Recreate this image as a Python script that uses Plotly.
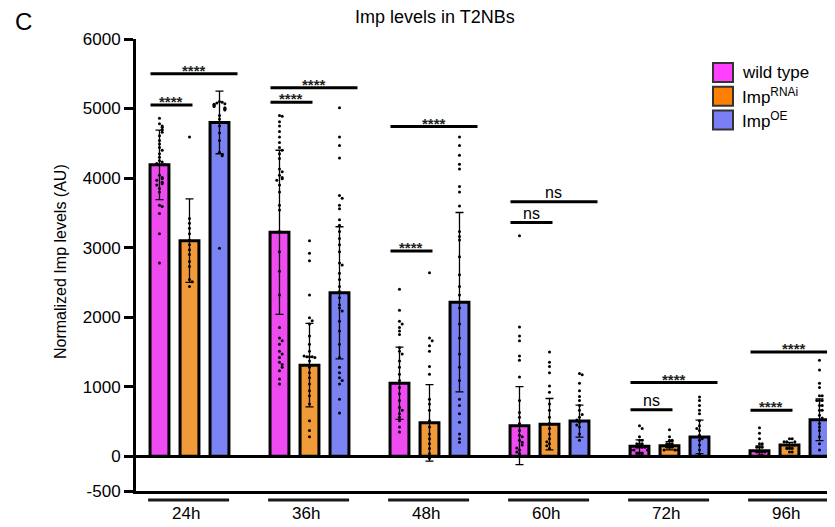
import plotly.graph_objects as go

# ---------------- data ----------------
groups = ["24h", "36h", "48h", "60h", "72h", "96h"]
genotypes = ["wild type", "Imp<sup>RNAi</sup>", "Imp<sup>OE</sup>"]

mean_wt = [4190, 3220, 1050, 440, 145, 78]
mean_rnai = [3100, 1310, 480, 460, 150, 160]
mean_oe = [4800, 2350, 2215, 505, 278, 525]

sd_wt = [500, 1180, 520, 560, 90, 70]
sd_rnai = [600, 600, 550, 370, 60, 40]
sd_oe = [450, 950, 1290, 230, 240, 300]

pts_wt_24h = [4860, 4780, 4750, 4730, 4700, 4660, 4610, 4540, 4490, 4440, 4400, 4350, 4300, 4250, 4230,
              4210, 4200, 4190, 4040, 4010, 3990, 3970, 3940, 3920, 3900, 3850, 3800, 3610, 3590, 3490, 3200, 2780]
pts_rnai_24h = [4590, 3420, 3350, 3280, 3200, 3110, 3040, 2970, 2900, 2800, 2730, 2540, 2510, 2440]
pts_oe_24h = [5100, 5090, 5080, 5070, 5060, 5050, 5040, 5030, 5010, 5000, 4990, 4980, 4900, 4850, 4750,
              4650, 4540, 4370, 4340, 4320, 2990]

pts_wt_36h = [4900, 4890, 4810, 4750, 4670, 4590, 4510, 4440, 4400, 4350, 4280, 4130, 4090, 4040, 4010,
              3990, 3970, 3900, 3800, 3610, 3540, 3230, 2940, 2660, 2320, 1850, 1700, 1660, 1610, 1510,
              1470, 1420, 1350, 1320, 1280, 1230, 1110, 1040]
pts_rnai_36h = [3100, 2920, 2810, 2320, 1990, 1950, 1900, 1730, 1610, 1510, 1430, 1430, 1430, 1420, 1440,
                1370, 1280, 1200, 1130, 1040, 940, 870, 750, 510, 370, 280]
pts_oe_36h = [5010, 4590, 4470, 4290, 3750, 3710, 3610, 3560, 3400, 3320, 3230, 3130, 3040, 2940, 2780,
              2750, 2630, 2540, 2440, 2370, 2280, 2180, 2130, 2090, 1940, 1800, 1610, 1420, 1280, 1200,
              1130, 1090, 1040, 820, 620]

pts_wt_48h = [2400, 2100, 1940, 1900, 1850, 1800, 1750, 1560, 1510, 1470, 1370, 1280, 1180, 1090, 990,
              900, 800, 700, 660, 610, 560, 510, 420, 350]
pts_rnai_48h = [2640, 1700, 1660, 1590, 1510, 1290, 1180, 820, 750, 660, 510, 420, 320, 250, 180, 110, 40, -30]
pts_oe_48h = [4590, 4470, 4330, 4200, 4130, 3880, 3800, 3600, 3230, 3160, 3110, 2870, 2610, 2440, 2320,
              2130, 1900, 1700, 1470, 1280, 1090, 820, 730, 610, 490, 320, 250, 200]

pts_wt_60h = [3170, 1860, 1730, 1660, 1440, 1380, 1140, 800, 630, 560, 470, 370, 300, 280, 230, 200, 160,
              90, 40, 120, 60]
pts_rnai_60h = [1500, 1350, 1290, 1200, 1010, 920, 750, 660, 560, 470, 400, 320, 250, 180, 110, 150, 210]
pts_oe_60h = [1190, 1170, 1050, 940, 860, 800, 730, 660, 560, 490, 420, 320, 230, 600, 520, 450]

pts_wt_72h = [440, 400, 280, 230, 230, 180, 180, 180, 130, 130, 130, 130, 90, 90, 90, 90, 40, 40, 40]
pts_rnai_72h = [380, 280, 230, 230, 180, 180, 180, 130, 130, 130, 90, 90, 90]
pts_oe_72h = [850, 800, 730, 660, 610, 510, 440, 370, 300, 230, 160, 90, 20, 400, 250]

pts_wt_96h = [410, 330, 250, 180, 180, 130, 130, 130, 60, 60, 60, 60, 15, 15]
pts_rnai_96h = [250, 250, 210, 210, 210, 160, 160, 160, 160, 110, 110, 110, 60, 60]
pts_oe_96h = [1380, 1240, 1050, 990, 870, 870, 800, 800, 800, 730, 730, 660, 660, 590, 470, 370, 280,
              180, 90, 550, 420]

# significance comparisons: group index, compared bar index (vs wild type), level, label
sig_group = [0, 0, 1, 1, 2, 2, 3, 3, 4, 4, 5, 5]
sig_target = [1, 2, 1, 2, 1, 2, 1, 2, 1, 2, 1, 2]
sig_level = [5050, 5500, 5090, 5300, 2950, 4740, 3360, 3660, 670, 1060, 660, 1500]
sig_label = ["****", "****", "****", "****", "****", "****", "ns", "ns", "ns", "****", "****", "****"]

yticks = [-500, 0, 1000, 2000, 3000, 4000, 5000, 6000]

# ---------------- styling / layout helpers ----------------
OFF = 8                      # page body margin
W, H = 835 - OFF, 527 - OFF
L, T = 136 - OFF, 39 - OFF
PLOT_BOTTOM = 491 - OFF
B = H - PLOT_BOTTOM
R = 0
PW, PH = W - L - R, H - T - B
FONT = "Liberation Sans, Arial, sans-serif"

bar_colors = ["#EE4CF0", "#F09A3A", "#7B83F2"]
legend_colors = ["#FF40FF", "#FF8000", "#7B7FF5"]


def px(xp):  # page pixel -> paper x
    return (xp - OFF - L) / PW


def py(yp):  # page pixel -> paper y
    return (PLOT_BOTTOM - (yp - OFF)) / PH


def pos(g, i):
    return 4 * g + i


def swarm(vals, thr=45, step=0.09, cap=0.28):
    placed, offs = [], []
    for v in vals:
        k = sum(1 for p in placed if abs(p - v) < thr)
        off = ((k + 1) // 2) * step * (1 if k % 2 else -1)
        offs.append(max(-cap, min(cap, off)))
        placed.append(v)
    return offs


means = [mean_wt, mean_rnai, mean_oe]
sds = [sd_wt, sd_rnai, sd_oe]
points = [
    [pts_wt_24h, pts_wt_36h, pts_wt_48h, pts_wt_60h, pts_wt_72h, pts_wt_96h],
    [pts_rnai_24h, pts_rnai_36h, pts_rnai_48h, pts_rnai_60h, pts_rnai_72h, pts_rnai_96h],
    [pts_oe_24h, pts_oe_36h, pts_oe_48h, pts_oe_60h, pts_oe_72h, pts_oe_96h],
]

fig = go.Figure()

for i in range(3):
    fig.add_trace(go.Bar(
        x=[pos(g, i) for g in range(len(groups))],
        y=means[i],
        width=0.63,
        name=genotypes[i],
        marker=dict(color=bar_colors[i], line=dict(color="black", width=3)),
        error_y=dict(type="data", array=sds[i], symmetric=True, color="black", thickness=1.3, width=4),
        showlegend=False,
    ))

for i in range(3):
    xs, ys = [], []
    for g in range(len(groups)):
        vals = points[i][g]
        offs = swarm(vals)
        xs += [pos(g, i) + o for o in offs]
        ys += vals
    fig.add_trace(go.Scatter(
        x=xs, y=ys, mode="markers",
        marker=dict(color="black", size=3),
        showlegend=False, hoverinfo="y",
    ))

shapes = []
annotations = []

# significance bars
for g, t, lv, lab in zip(sig_group, sig_target, sig_level, sig_label):
    x0 = pos(g, 0) - 0.3
    x1 = pos(g, t) + (0.1 if t == 1 else 0.6)
    shapes.append(dict(type="line", xref="x", yref="y", x0=x0, x1=x1, y0=lv, y1=lv,
                       line=dict(color="black", width=3)))
    if lab == "ns":
        annotations.append(dict(x=(x0 + x1) / 2, y=lv, xref="x", yref="y", text="ns", showarrow=False,
                                yanchor="bottom", yshift=-1, font=dict(family=FONT, size=16, color="black")))
    else:
        annotations.append(dict(x=(x0 + x1) / 2, y=lv, xref="x", yref="y", text="<b>" + lab + "</b>",
                                showarrow=False, yanchor="bottom", yshift=-7,
                                font=dict(family=FONT, size=15, color="#222")))

# group underlines and labels
for g, name in enumerate(groups):
    c = pos(g, 1)
    shapes.append(dict(type="line", xref="x", yref="paper", x0=c - 1.38, x1=c + 1.32,
                       y0=py(500), y1=py(500), line=dict(color="#1a1a1a", width=3)))
    annotations.append(dict(x=c - 0.1, y=py(513), xref="x", yref="paper", text=name, showarrow=False,
                            yanchor="middle", font=dict(family=FONT, size=17, color="black")))

# legend
for i, lab in enumerate(genotypes):
    y0 = 63 + i * 23.7
    shapes.append(dict(type="rect", xref="paper", yref="paper", x0=px(713), x1=px(733),
                       y0=py(y0), y1=py(y0 + 19), fillcolor=legend_colors[i],
                       line=dict(color="#333", width=2)))
    annotations.append(dict(x=px(740), y=py(y0 + 9.5), xref="paper", yref="paper", text=lab,
                            showarrow=False, xanchor="left", yanchor="middle",
                            font=dict(family=FONT, size=17, color="black")))

# titles
annotations.append(dict(x=px(435), y=py(17), xref="paper", yref="paper", text="Imp levels in T2NBs",
                        showarrow=False, xanchor="center", yanchor="middle",
                        font=dict(family=FONT, size=18, color="black")))
annotations.append(dict(x=px(23), y=py(21), xref="paper", yref="paper", text="C",
                        showarrow=False, xanchor="center", yanchor="middle",
                        font=dict(family=FONT, size=24, color="black")))
annotations.append(dict(x=px(60), y=py(262), xref="paper", yref="paper", text="Normalized Imp levels (AU)",
                        showarrow=False, textangle=-90, xanchor="center", yanchor="middle",
                        font=dict(family=FONT, size=16, color="black")))

fig.update_layout(
    width=W, height=H,
    margin=dict(l=L, r=R, t=T, b=B),
    paper_bgcolor="white", plot_bgcolor="white",
    barmode="overlay",
    shapes=shapes, annotations=annotations,
    font=dict(family=FONT, size=17, color="black"),
    xaxis=dict(range=[-0.783, -0.783 + PW / 30.0], showgrid=False, zeroline=False,
               showticklabels=False, ticks="", showline=True, linecolor="black", linewidth=3),
    yaxis=dict(range=[-500, 6000], tickvals=yticks, ticktext=[str(v) for v in yticks],
               showgrid=False, zeroline=True, zerolinecolor="black", zerolinewidth=3,
               showline=True, linecolor="black", linewidth=3, ticks="outside", ticklen=9,
               tickwidth=2.5, tickcolor="black", tickfont=dict(family=FONT, size=17, color="black")),
)

fig.write_html("out.html")
